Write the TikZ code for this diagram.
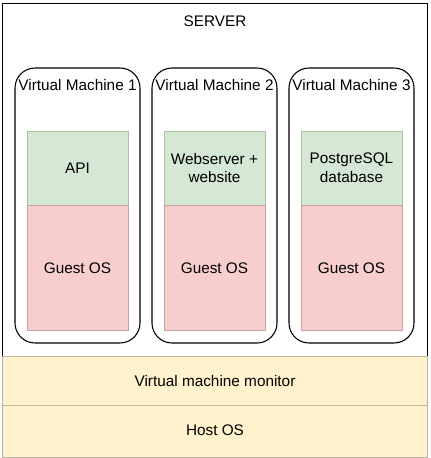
\documentclass[tikz,border=0pt]{standalone}
\usepackage{fontspec}
\setmainfont{Liberation Sans}

\definecolor{appfill}{HTML}{D5E8D4}
\definecolor{appline}{HTML}{A9C49F}
\definecolor{osfill}{HTML}{F8CECC}
\definecolor{osline}{HTML}{C9A19C}
\definecolor{hostfill}{HTML}{FFF2CC}
\definecolor{hostline}{HTML}{BDB49C}

\tikzset{
  vmbox/.style={draw, line width=0.8pt, rounded corners=15},
  appbox/.style={fill=appfill, draw=appline, line width=0.6pt},
  osbox/.style={fill=osfill, draw=osline, line width=0.6pt},
  hostbox/.style={fill=hostfill, draw=hostline, line width=0.7pt}
}

\begin{document}
\begin{tikzpicture}[x=0.75pt, y=-0.75pt,
  every node/.style={font=\fontsize{11.5}{14}\selectfont, align=center}]

\useasboundingbox (0,0) rectangle (430,458);

\draw[line width=0.7pt] (2, 3) rectangle (427, 457);

\draw (215, 21) node (server){SERVER};

\begin{scope}
\draw[vmbox] (15, 68) rectangle (140, 343);
\draw (77.5, 85) node (vm1){Virtual Machine 1};
\draw[appbox] (27, 131) rectangle (128, 205);
\draw[osbox] (27, 205) rectangle (128, 330);
\draw (77.5, 168) node (app1){API};
\draw (77.5, 268) node (os1){Guest OS};
\end{scope}

\begin{scope}[xshift=102.75pt]
\draw[vmbox] (15, 68) rectangle (140, 343);
\draw (77.5, 85) node (vm2){Virtual Machine 2};
\draw[appbox] (27, 131) rectangle (128, 205);
\draw[osbox] (27, 205) rectangle (128, 330);
\draw (77.5, 168) node (app2){Webserver +\\website};
\draw (77.5, 268) node (os2){Guest OS};
\end{scope}

\begin{scope}[xshift=205.5pt]
\draw[vmbox] (15, 68) rectangle (140, 343);
\draw (77.5, 85) node (vm3){Virtual Machine 3};
\draw[appbox] (27, 131) rectangle (128, 205);
\draw[osbox] (27, 205) rectangle (128, 330);
\draw (77.5, 168) node (app3){PostgreSQL\\database};
\draw (77.5, 268) node (os3){Guest OS};
\end{scope}

\draw[hostbox] (2, 356) rectangle (427, 405);
\draw[hostbox] (2, 405) rectangle (427, 457);

\draw (215, 381) node (vmm){Virtual machine monitor};
\draw (215, 430) node (host){Host OS};

\end{tikzpicture}
\end{document}
